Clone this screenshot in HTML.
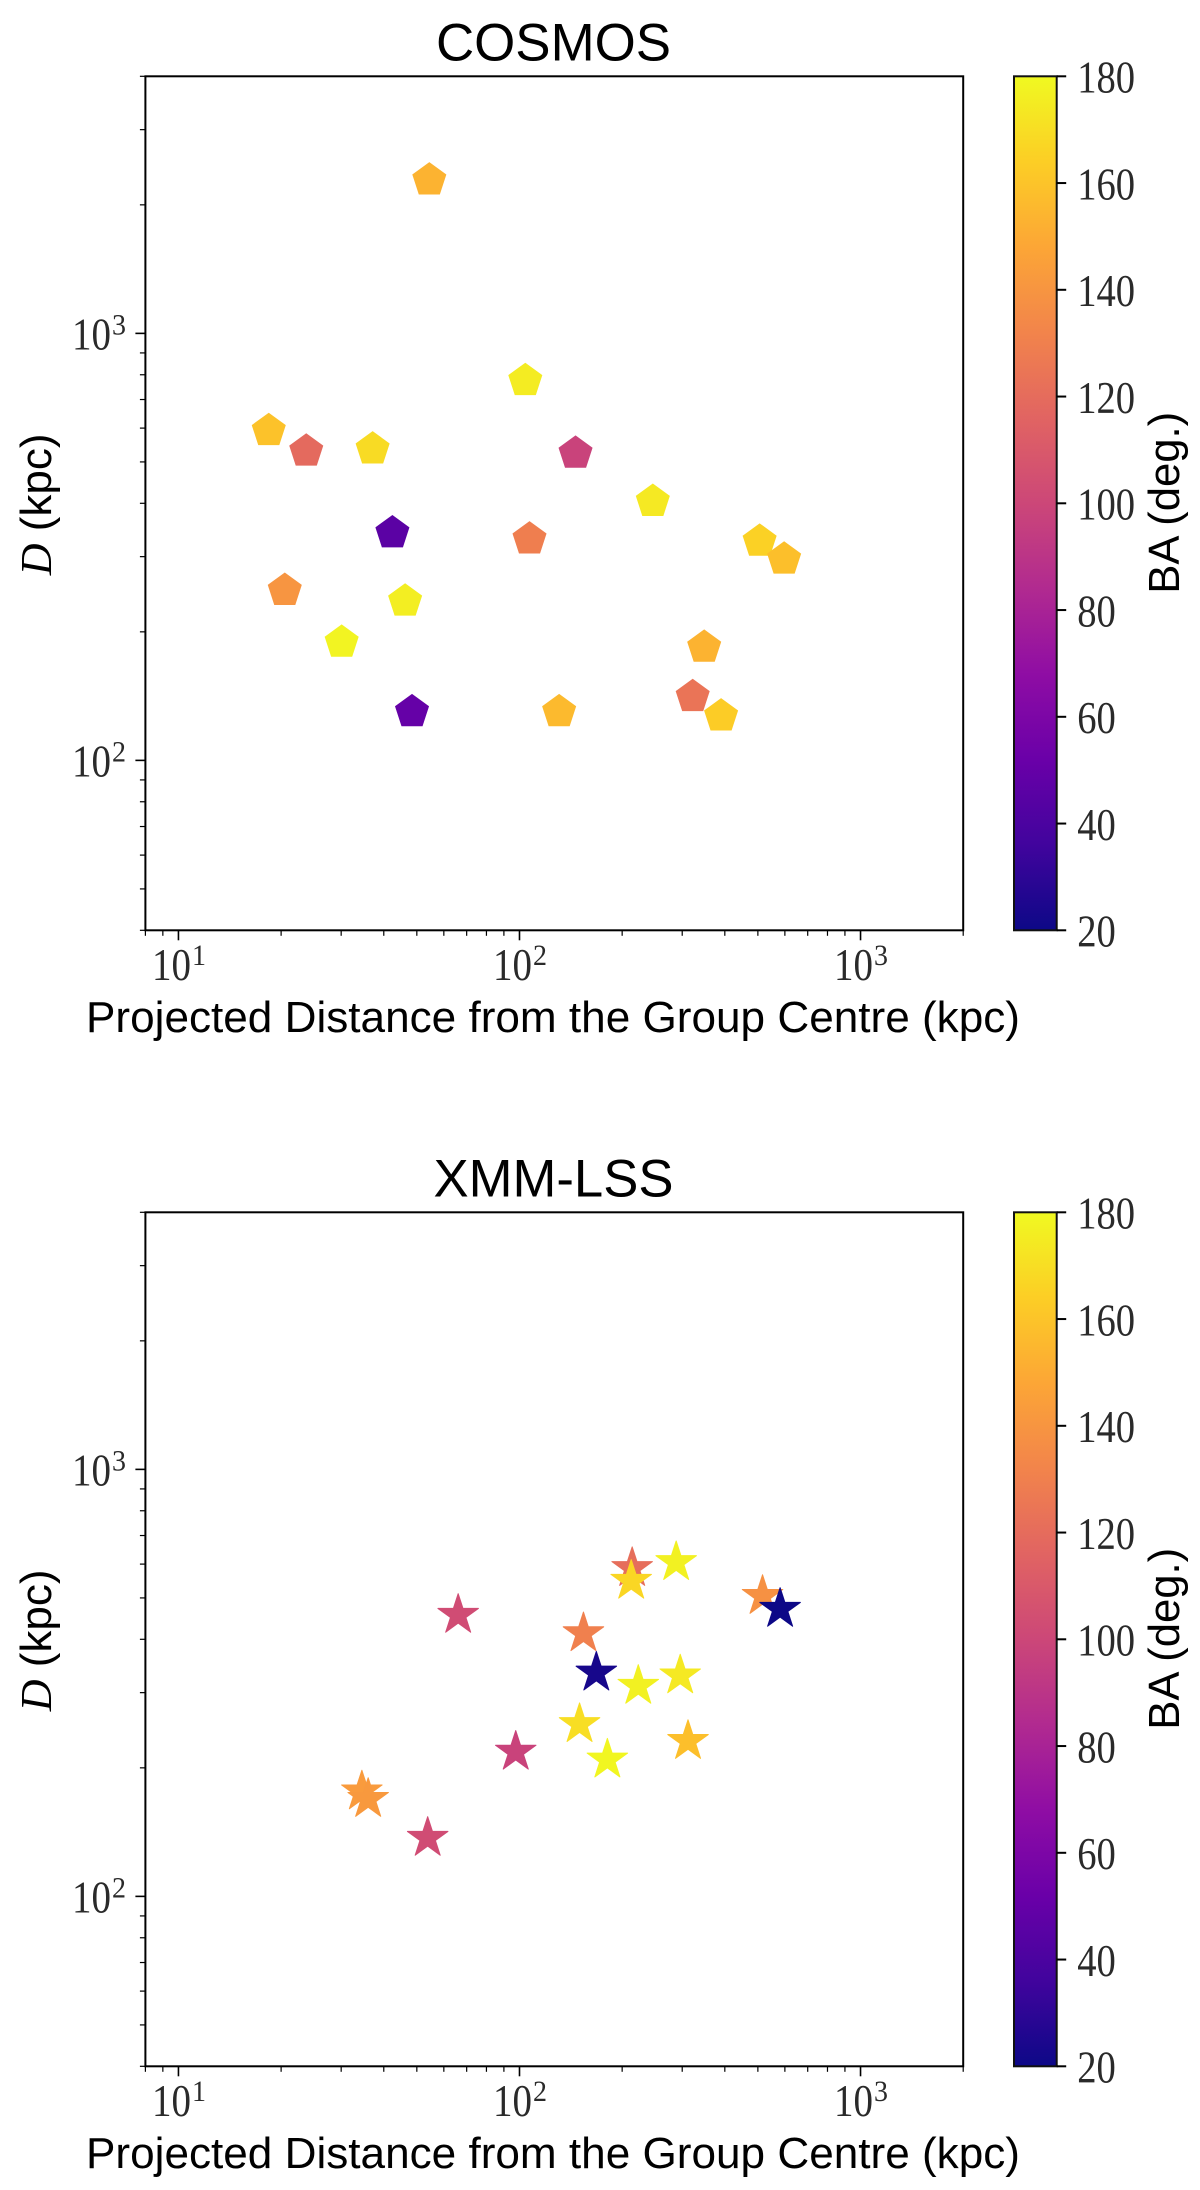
<!DOCTYPE html>
<html lang="en">
<head>
<meta charset="utf-8">
<title>COSMOS and XMM-LSS BA scatter plots</title>
<style>
html,body{margin:0;padding:0;background:#fff;}
svg{display:block;}
.sans{font-family:"Liberation Sans",Arial,sans-serif;fill:#000;}
.serif{font-family:"Liberation Serif","Times New Roman",serif;fill:#2a2a2a;}
</style>
</head>
<body>
<svg id="figure" xmlns="http://www.w3.org/2000/svg" width="1200" height="2190" viewBox="0 0 1200 2190">
<defs>
<linearGradient id="plasma-gradient" x1="0" y1="1" x2="0" y2="0"></linearGradient>
</defs>
<rect x="0" y="0" width="1200" height="2190" fill="#ffffff"/>
</svg>
<script>
// ---- data ----
const cosmosX = [54.4, 18.4, 23.7, 37.1, 104, 146, 42.4, 107, 20.5, 46.2, 30.1, 48.4, 130.7, 506, 597, 348, 322, 390, 246];
const cosmosY = [2287, 592, 530, 536, 775, 524, 341, 330, 250, 236, 189, 130, 130, 326, 296, 184, 141, 127, 404];
const cosmosBA = [153, 159, 119, 169, 175, 98, 46, 129, 140, 176, 178, 50, 156, 165, 158, 153, 124, 163, 174];

const xmmX = [66.1, 214, 288, 212.6, 516, 581, 154, 168, 223, 296, 150, 97.5, 181, 312, 34.5, 36, 53.8];
const xmmY = [456, 587, 606, 548, 505, 471, 413, 334, 311, 329, 253, 218, 209, 231, 176, 169, 137];
const xmmBA = [103, 121, 177, 167, 138, 20, 130, 23, 177, 174, 170, 98, 179, 158, 143, 142, 103];

// ---- axis definitions ----
const xLimits = [8, 2000];
const yLimits = [40, 4000];
const baLimits = [20, 180];
const xMajorTicks = [10, 100, 1000];
const xMajorExponents = ["1", "2", "3"];
const xMinorTicks = [8, 9, 20, 30, 40, 50, 60, 70, 80, 90, 200, 300, 400, 500, 600, 700, 800, 900, 2000];
const yMajorTicks = [100, 1000];
const yMajorExponents = ["2", "3"];
const yMinorTicks = [40, 50, 60, 70, 80, 90, 200, 300, 400, 500, 600, 700, 800, 900, 2000, 3000, 4000];
const baTicks = [20, 40, 60, 80, 100, 120, 140, 160, 180];
const plasmaStops = ["#0d0887","#41049d","#6a00a8","#8f0da4","#b12a90","#cc4778","#e16462","#f2844b","#fca636","#fcce25","#f0f921"];

const SVG_NS = "http://www.w3.org/2000/svg";
const figure = document.getElementById("figure");

// ---- layout ----
const plotLeft = 145.4, plotRight = 963.2, plotHeight = 854;
const barLeft = 1014, barRight = 1056.7;

function xScale(v) {
  return plotLeft + (Math.log10(v) - Math.log10(xLimits[0])) / (Math.log10(xLimits[1]) - Math.log10(xLimits[0])) * (plotRight - plotLeft);
}
function yScale(v, top) {
  return top + plotHeight - (Math.log10(v) - Math.log10(yLimits[0])) / (Math.log10(yLimits[1]) - Math.log10(yLimits[0])) * plotHeight;
}
function baScale(v, top) {
  return top + plotHeight - (v - baLimits[0]) / (baLimits[1] - baLimits[0]) * plotHeight;
}
function hexToRgb(h) {
  return [parseInt(h.slice(1, 3), 16), parseInt(h.slice(3, 5), 16), parseInt(h.slice(5, 7), 16)];
}
function plasma(v) {
  const t = Math.max(0, Math.min(1, (v - baLimits[0]) / (baLimits[1] - baLimits[0]))) * (plasmaStops.length - 1);
  const i = Math.min(plasmaStops.length - 2, Math.floor(t));
  const a = hexToRgb(plasmaStops[i]), b = hexToRgb(plasmaStops[i + 1]);
  const f = t - i;
  return "rgb(" + a.map((c, k) => Math.round(c + (b[k] - c) * f)).join(",") + ")";
}

function line(parent, name, x1, y1, x2, y2, w) {
  const el = document.createElementNS(SVG_NS, "line");
  
  
  el.setAttribute("x1", x1);
  el.setAttribute("y1", y1);
  el.setAttribute("x2", x2);
  el.setAttribute("y2", y2);
  el.setAttribute("stroke", "#000");
  el.setAttribute("stroke-width", w);
  parent.appendChild(el);
  return el;
}
function label(parent, name, cls, str, x, y, size, fit) {
  const el = document.createElementNS(SVG_NS, "text");
  
  
  el.setAttribute("class", cls);
  el.setAttribute("x", x);
  el.setAttribute("y", y);
  el.setAttribute("font-size", size);
  if (fit) {
    el.setAttribute("textLength", fit);
    el.setAttribute("lengthAdjust", "spacingAndGlyphs");
  }
  el.textContent = str;
  parent.appendChild(el);
  return el;
}
function group(parent, name) {
  const el = document.createElementNS(SVG_NS, "g");
  
  
  parent.appendChild(el);
  return el;
}
function markerPoints(cx, cy, spikes, outer, inner) {
  const pts = [];
  const n = inner ? spikes * 2 : spikes;
  for (let i = 0; i < n; i++) {
    const r = inner && i % 2 === 1 ? inner : outer;
    const a = -Math.PI / 2 + i * 2 * Math.PI / n;
    pts.push((cx + r * Math.cos(a)).toFixed(2) + "," + (cy + r * Math.sin(a)).toFixed(2));
  }
  return pts.join(" ");
}
function powerLabel(parent, name, exponent, x, y) {
  const g = group(parent, name);
  label(g, name + "-base", "serif", "10", x, y, 45, 39);
  label(g, name + "-exponent", "serif", exponent, x + 40, y - 15, 30, 14);
}

// gradient stops
const gradient = document.getElementById("plasma-gradient");
plasmaStops.forEach((c, i) => {
  const s = document.createElementNS(SVG_NS, "stop");
  s.setAttribute("offset", i / (plasmaStops.length - 1));
  s.setAttribute("stop-color", c);
  gradient.appendChild(s);
});

function drawPanel(prefix, title, titleX, titleW, top, xs, ys, bas, isStar) {
  const bottom = top + plotHeight;
  const panel = group(figure, prefix + "-panel");

  label(panel, prefix + "-title", "sans", title, titleX, top - 16, 53, titleW);

  // marks
  const marks = group(panel, prefix + "-markers");
  xs.forEach((xv, i) => {
    const mark = document.createElementNS(SVG_NS, "polygon");
    
    
    const cx = xScale(xv), cy = yScale(ys[i], top);
    mark.setAttribute("points", isStar ? markerPoints(cx, cy, 5, 21.3, 21.3 * 0.381966) : markerPoints(cx, cy, 5, 17.9));
    mark.setAttribute("fill", plasma(bas[i]));
    if (isStar) {
      mark.setAttribute("stroke", plasma(bas[i]));
      mark.setAttribute("stroke-width", "1");
      mark.setAttribute("stroke-linejoin", "round");
    }
    marks.appendChild(mark);
  });

  // x axis ticks
  const xAxis = group(panel, prefix + "-x-axis");
  xMinorTicks.forEach(v => {
    line(xAxis, prefix + "-x-minor-tick", xScale(v), bottom, xScale(v), bottom + 5.5, 1.2);
  });
  xMajorTicks.forEach((v, i) => {
    line(xAxis, prefix + "-x-major-tick", xScale(v), bottom, xScale(v), bottom + 10, 1.6);
    powerLabel(xAxis, prefix + "-x-tick-label", xMajorExponents[i], xScale(v) - 26.5, bottom + 49.5);
  });

  // y axis ticks
  const yAxis = group(panel, prefix + "-y-axis");
  yMinorTicks.forEach(v => {
    line(yAxis, prefix + "-y-minor-tick", plotLeft - 5.5, yScale(v, top), plotLeft, yScale(v, top), 1.2);
  });
  yMajorTicks.forEach((v, i) => {
    line(yAxis, prefix + "-y-major-tick", plotLeft - 10, yScale(v, top), plotLeft, yScale(v, top), 1.6);
    powerLabel(yAxis, prefix + "-y-tick-label", yMajorExponents[i], 72, yScale(v, top) + 16.3);
  });

  // frame
  const frame = document.createElementNS(SVG_NS, "rect");
  
  
  frame.setAttribute("x", plotLeft);
  frame.setAttribute("y", top);
  frame.setAttribute("width", plotRight - plotLeft);
  frame.setAttribute("height", plotHeight);
  frame.setAttribute("fill", "none");
  frame.setAttribute("stroke", "#000");
  frame.setAttribute("stroke-width", "2");
  panel.appendChild(frame);

  // axis titles
  label(panel, prefix + "-x-axis-title", "sans", "Projected Distance from the Group Centre (kpc)", 86, top + 955.5, 44, 934);

  const yTitle = document.createElementNS(SVG_NS, "text");
  
  
  yTitle.setAttribute("class", "sans");
  yTitle.setAttribute("font-size", "44");
  yTitle.setAttribute("transform", "translate(51 " + (top + 499) + ") rotate(-90)");
  const dSpan = document.createElementNS(SVG_NS, "tspan");
  dSpan.setAttribute("font-family", '"Liberation Serif", serif');
  dSpan.setAttribute("font-style", "italic");
  dSpan.textContent = "D";
  yTitle.appendChild(dSpan);
  const kpcSpan = document.createElementNS(SVG_NS, "tspan");
  kpcSpan.textContent = " (kpc)";
  yTitle.appendChild(kpcSpan);
  panel.appendChild(yTitle);

  // colorbar
  const bar = group(panel, prefix + "-colorbar");
  const barRect = document.createElementNS(SVG_NS, "rect");
  
  
  barRect.setAttribute("x", barLeft);
  barRect.setAttribute("y", top);
  barRect.setAttribute("width", barRight - barLeft);
  barRect.setAttribute("height", plotHeight);
  barRect.setAttribute("fill", "url(#plasma-gradient)");
  barRect.setAttribute("stroke", "#111");
  barRect.setAttribute("stroke-width", "2");
  bar.appendChild(barRect);
  baTicks.forEach(v => {
    const y = baScale(v, top);
    line(bar, prefix + "-colorbar-tick", barRight, y, barRight + 9.5, y, 2);
    const txt = String(v);
    label(bar, prefix + "-colorbar-tick-label", "serif", txt, barRight + 20.5, y + 16.3, 45, txt.length * 19.3);
  });

  const barTitle = document.createElementNS(SVG_NS, "text");
  
  
  barTitle.setAttribute("class", "sans");
  barTitle.setAttribute("font-size", "44");
  barTitle.setAttribute("textLength", "182");
  barTitle.setAttribute("lengthAdjust", "spacingAndGlyphs");
  barTitle.setAttribute("transform", "translate(1179 " + (top + 517.5) + ") rotate(-90)");
  barTitle.textContent = "BA (deg.)";
  panel.appendChild(barTitle);
}

drawPanel("cosmos", "COSMOS", 436, 235, 76.3, cosmosX, cosmosY, cosmosBA, false);
drawPanel("xmm-lss", "XMM-LSS", 433.5, 240, 1212.3, xmmX, xmmY, xmmBA, true);
</script>
</body>
</html>
